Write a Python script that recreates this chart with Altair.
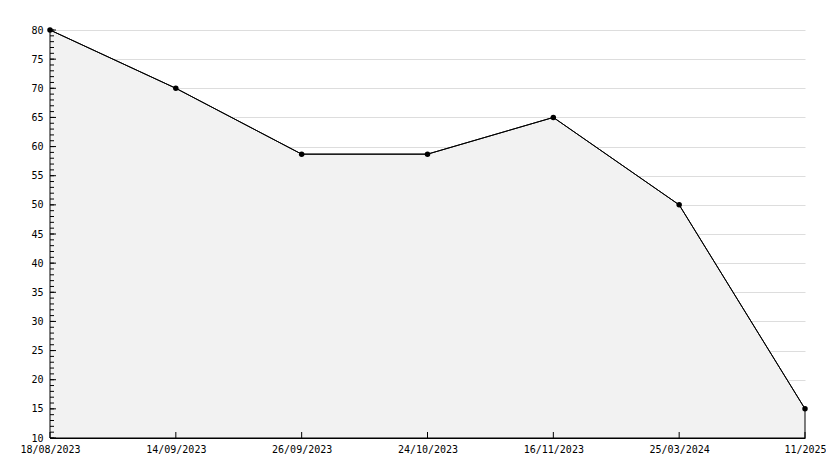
import altair as alt
import pandas as pd

dates = ["18/08/2023", "14/09/2023", "26/09/2023", "24/10/2023", "16/11/2023", "25/03/2024", "11/2025"]
values = [80, 70, 58.7, 58.7, 65, 50, 15]
y_major = list(range(10, 81, 5))
y_minor = list(range(10, 81, 1))

df = pd.DataFrame({"date": dates, "value": values})
minor_df = pd.DataFrame({"v": y_minor})
major_df = pd.DataFrame({"v": y_major})

FONT = "DejaVu Sans Mono"

xscale = alt.Scale(type="point", padding=0, domain=dates)
yscale = alt.Scale(domain=[10, 80], nice=False, zero=False)

xaxis = alt.Axis(title=None, labelAngle=0, ticks=False, grid=False,
                 domainColor="black", labelPadding=6, labelFont=FONT,
                 labelFontSize=10, labelColor="black", labelOverlap=False,
                 labelFontWeight="normal")
yaxis = alt.Axis(title=None, values=y_major, ticks=False, grid=True,
                 gridColor="#dddddd", domainColor="black", labelPadding=7,
                 labelFont=FONT, labelFontSize=10, labelColor="black",
                 labelOverlap=False, labelFontWeight="normal")

def X(field="date:N"):
    return alt.X(field, scale=xscale, sort=dates, axis=xaxis)

def Y(field="value:Q"):
    return alt.Y(field, scale=yscale, axis=yaxis)

area = alt.Chart(df).mark_area(color="#f2f2f2", opacity=1, stroke="black", strokeWidth=1).encode(
    x=X(), y=Y(), y2=alt.datum(10)
)
line = alt.Chart(df).mark_line(color="black", strokeWidth=1).encode(x=X(), y=Y())
pts = alt.Chart(df).mark_point(filled=True, color="black", size=30, shape="circle", opacity=1).encode(
    x=X(), y=Y())

minor = alt.Chart(minor_df).mark_rule(color="black", strokeWidth=1).encode(
    y=Y("v:Q"), x=alt.value(0), x2=alt.value(4))
major = alt.Chart(major_df).mark_rule(color="black", strokeWidth=1).encode(
    y=Y("v:Q"), x=alt.value(0), x2=alt.value(6))
xt = alt.Chart(df).mark_rule(color="black", strokeWidth=1).encode(
    x=X(), y=alt.value(408), y2=alt.value(402))

chart = alt.layer(area, line, minor, major, xt, pts).properties(
    width=755, height=408,
    background="white",
    autosize=alt.AutoSizeParams(type="none"),
    padding={"left": 42, "top": 22, "right": 21, "bottom": 20},
).configure_view(strokeWidth=0, stroke="transparent")

chart.save("out.html", embed_options={"renderer": "svg", "actions": False})
